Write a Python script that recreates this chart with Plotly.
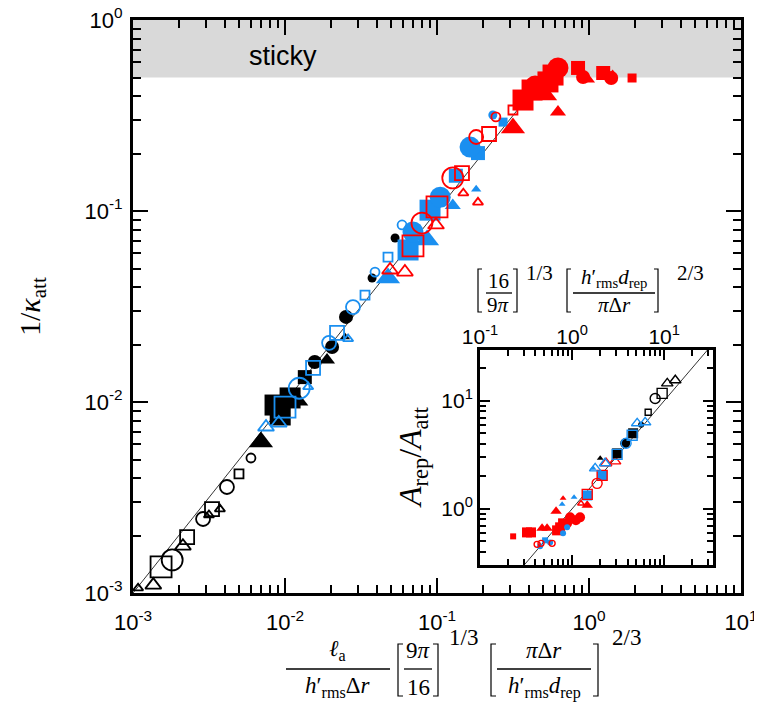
import plotly.graph_objects as go

# ---------------- main panel: 1/kappa_att vs rescaled adhesion length ----------------
# black, open
m_blk_open_tri_s = [(1.08e-3, 1.06e-3), (3.16e-3, 2.56e-3), (3.73e-3, 2.75e-3)]
m_blk_open_tri_m = [(1.36e-3, 1.10e-3), (2.13e-3, 1.76e-3)]
m_blk_open_sq_s = [(4.98e-3, 4.20e-3)]
m_blk_open_sq_m = [(2.27e-3, 1.96e-3), (3.31e-3, 2.75e-3)]
m_blk_open_sq_l = [(1.53e-3, 1.37e-3)]
m_blk_open_ci_s = [(5.97e-3, 5.09e-3)]
m_blk_open_ci_m = [(2.89e-3, 2.44e-3), (4.15e-3, 3.59e-3)]
m_blk_open_ci_l = [(1.81e-3, 1.49e-3)]
# black, filled
m_blk_fill_tri_s = [(2.48e-2, 2.19e-2)]
m_blk_fill_tri_m = [(1.26e-2, 1.00e-2), (1.89e-2, 1.66e-2)]
m_blk_fill_tri_l = [(6.95e-3, 6.18e-3)]
m_blk_fill_sq_m = [(1.35e-2, 1.35e-2)]
m_blk_fill_sq_l = [(8.6e-3, 9.64e-3), (9.3e-3, 8.55e-3), (1.08e-2, 1.05e-2)]
m_blk_fill_ci_s = [(3.74e-2, 4.46e-2), (5.3e-2, 7.22e-2)]
m_blk_fill_ci_m = [(1.03e-2, 1.06e-2), (1.57e-2, 1.62e-2), (2.04e-2, 1.94e-2), (2.52e-2, 2.79e-2)]
# blue, open
m_blu_open_tri_s = [(1.42e-2, 1.20e-2), (2.6e-2, 2.14e-2)]
m_blu_open_tri_m = [(7.5e-3, 7.4e-3), (9.1e-3, 7.76e-3)]
m_blu_open_sq_s = [(3.36e-2, 3.63e-2), (4.76e-2, 5.74e-2)]
m_blu_open_sq_m = [(1.53e-2, 1.51e-2), (2.2e-2, 2.3e-2)]
m_blu_open_sq_l = [(1.0e-2, 9.4e-3)]
m_blu_open_ci_s = [(3.91e-2, 4.79e-2), (5.89e-2, 8.45e-2)]
m_blu_open_ci_m = [(1.95e-2, 2.04e-2), (2.8e-2, 3.14e-2)]
m_blu_open_ci_l = [(1.24e-2, 1.18e-2)]
# blue, filled
m_blu_fill_tri_s = [(0.181, 0.130)]
m_blu_fill_tri_m = [(0.127, 0.107)]
m_blu_fill_tri_l = [(4.76e-2, 4.46e-2), (8.6e-2, 7.05e-2)]
m_blu_fill_sq_s = [(0.272, 0.292)]
m_blu_fill_sq_m = [(0.133, 0.153), (0.186, 0.201)]
m_blu_fill_sq_l = [(6.45e-2, 6.25e-2), (9.0e-2, 0.101)]
m_blu_fill_ci_s = [(0.233, 0.318)]
m_blu_fill_ci_l = [(6.95e-2, 7.76e-2), (0.105, 0.118), (0.165, 0.216)]
# red, open
m_red_open_tri_s = [(0.149, 0.124), (0.186, 0.111)]
m_red_open_tri_m = [(4.91e-2, 4.91e-2), (6.15e-2, 4.79e-2), (9.85e-2, 8.45e-2)]
m_red_open_sq_s = [(0.316, 0.338)]
m_red_open_sq_m = [(0.146, 0.158), (0.22, 0.253)]
m_red_open_sq_l = [(6.95e-2, 6.56e-2), (0.100, 0.105)]
m_red_open_ci_s = [(0.244, 0.311)]
m_red_open_ci_m = [(0.181, 0.244)]
m_red_open_ci_l = [(7.96e-2, 8.65e-2), (0.127, 0.149)]
# red, filled
m_red_fill_tri_s = [(1.43, 0.521)]
m_red_fill_tri_m = [(0.625, 0.330), (0.97, 0.491)]
m_red_fill_tri_l = [(0.316, 0.272), (0.514, 0.405)]
m_red_fill_sq_s = [(1.92, 0.497)]
m_red_fill_sq_m = [(0.847, 0.561), (1.24, 0.528)]
m_red_fill_sq_l = [(0.368, 0.381), (0.422, 0.430), (0.537, 0.474), (0.58, 0.515)]
m_red_fill_ci_m = [(0.914, 0.503), (1.40, 0.497)]
m_red_fill_ci_l = [(0.442, 0.451), (0.625, 0.561)]

guide_main = [1e-3, 0.4]      # y = x
sticky_level = 0.5            # sticky region 0.5 .. 1

# ---------------- inset: A_rep/A_att ----------------
i_blk_open_tri_m = [(10.8, 14.5), (13.2, 15.5)]
i_blk_open_sq_s = [(6.70, 7.83)]
i_blk_open_sq_m = [(9.5, 11.7)]
i_blk_open_ci_m = [(7.98, 10.5)]
i_blk_fill_tri_s = [(2.02, 2.94)]
i_blk_fill_sq_m = [(4.60, 5.00), (3.08, 3.26)]
i_blk_fill_ci_s = [(5.62, 6.0)]
i_blk_fill_ci_m = [(3.77, 4.04)]
i_blu_open_tri_m = [(5.09, 6.19), (6.21, 6.32), (2.28, 2.64), (1.78, 2.37)]
i_blu_open_sq_m = [(4.49, 4.80), (3.08, 3.19)]
i_blu_open_ci_m = [(3.86, 4.04)]
i_blu_fill_tri_s = [(1.69, 2.37), (1.05, 1.28), (0.779, 1.10)]
i_blu_fill_sq_s = [(0.509, 0.511)]
i_blu_fill_sq_m = [(2.12, 2.04), (1.46, 1.33)]
i_blu_fill_ci_s = [(0.449, 0.450), (0.577, 0.489), (0.798, 0.593), (0.883, 0.674)]
i_red_open_tri_s = [(1.25, 1.12)]
i_red_open_tri_m = [(2.34, 2.64), (2.93, 2.75)]
i_red_open_sq_m = [(2.12, 2.04), (1.46, 1.36)]
i_red_open_ci_s = [(0.417, 0.469), (0.46, 0.479), (0.607, 0.479)]
i_red_open_ci_m = [(1.87, 1.72)]
i_red_fill_tri_s = [(0.798, 1.25)]
i_red_fill_tri_m = [(1.46, 1.08), (0.670, 0.948), (0.472, 0.660), (0.535, 0.660)]
i_red_fill_sq_s = [(0.229, 0.556)]
i_red_fill_sq_m = [(0.324, 0.605), (0.358, 0.605), (0.687, 0.632), (0.741, 0.674), (0.798, 0.734)]
i_red_fill_ci_m = [(0.951, 0.834), (1.10, 0.783), (1.22, 0.834), (0.883, 0.734)]

guide_inset = [0.3, 34]       # y = x

BLACK, BLUE, RED = "black", "#1a8ff0", "#ff0000"
TRI, SQ, CI = "triangle-up", "square", "circle"

main_groups = [
    (m_blk_open_tri_s, BLACK, TRI, True, "s"), (m_blk_open_tri_m, BLACK, TRI, True, "m"),
    (m_blk_open_sq_s, BLACK, SQ, True, "s"), (m_blk_open_sq_m, BLACK, SQ, True, "m"),
    (m_blk_open_sq_l, BLACK, SQ, True, "l"), (m_blk_open_ci_s, BLACK, CI, True, "s"),
    (m_blk_open_ci_m, BLACK, CI, True, "m"), (m_blk_open_ci_l, BLACK, CI, True, "l"),
    (m_blk_fill_tri_s, BLACK, TRI, False, "s"), (m_blk_fill_tri_m, BLACK, TRI, False, "m"),
    (m_blk_fill_tri_l, BLACK, TRI, False, "l"), (m_blk_fill_sq_m, BLACK, SQ, False, "m"),
    (m_blk_fill_sq_l, BLACK, SQ, False, "l"), (m_blk_fill_ci_s, BLACK, CI, False, "s"),
    (m_blk_fill_ci_m, BLACK, CI, False, "m"),
    (m_blu_fill_tri_s, BLUE, TRI, False, "s"), (m_blu_fill_tri_m, BLUE, TRI, False, "m"),
    (m_blu_fill_tri_l, BLUE, TRI, False, "l"), (m_blu_fill_sq_s, BLUE, SQ, False, "s"),
    (m_blu_fill_sq_m, BLUE, SQ, False, "m"), (m_blu_fill_sq_l, BLUE, SQ, False, "l"),
    (m_blu_fill_ci_s, BLUE, CI, False, "s"), (m_blu_fill_ci_l, BLUE, CI, False, "l"),
    (m_blu_open_tri_s, BLUE, TRI, True, "s"), (m_blu_open_tri_m, BLUE, TRI, True, "m"),
    (m_blu_open_sq_s, BLUE, SQ, True, "s"), (m_blu_open_sq_m, BLUE, SQ, True, "m"),
    (m_blu_open_sq_l, BLUE, SQ, True, "l"), (m_blu_open_ci_s, BLUE, CI, True, "s"),
    (m_blu_open_ci_m, BLUE, CI, True, "m"), (m_blu_open_ci_l, BLUE, CI, True, "l"),
    (m_red_fill_tri_s, RED, TRI, False, "s"), (m_red_fill_tri_m, RED, TRI, False, "m"),
    (m_red_fill_tri_l, RED, TRI, False, "l"), (m_red_fill_sq_s, RED, SQ, False, "s"),
    (m_red_fill_sq_m, RED, SQ, False, "m"), (m_red_fill_sq_l, RED, SQ, False, "l"),
    (m_red_fill_ci_m, RED, CI, False, "m"), (m_red_fill_ci_l, RED, CI, False, "l"),
    (m_red_open_tri_s, RED, TRI, True, "s"), (m_red_open_tri_m, RED, TRI, True, "m"),
    (m_red_open_sq_s, RED, SQ, True, "s"), (m_red_open_sq_m, RED, SQ, True, "m"),
    (m_red_open_sq_l, RED, SQ, True, "l"), (m_red_open_ci_s, RED, CI, True, "s"),
    (m_red_open_ci_m, RED, CI, True, "m"), (m_red_open_ci_l, RED, CI, True, "l"),
]

inset_groups = [
    (i_red_fill_tri_s, RED, TRI, False, "s"), (i_red_fill_tri_m, RED, TRI, False, "m"),
    (i_red_fill_sq_s, RED, SQ, False, "s"), (i_red_fill_sq_m, RED, SQ, False, "m"),
    (i_red_fill_ci_m, RED, CI, False, "m"),
    (i_blu_fill_tri_s, BLUE, TRI, False, "s"), (i_blu_fill_sq_s, BLUE, SQ, False, "s"),
    (i_blu_fill_sq_m, BLUE, SQ, False, "m"), (i_blu_fill_ci_s, BLUE, CI, False, "s"),
    (i_red_open_tri_s, RED, TRI, True, "s"), (i_red_open_tri_m, RED, TRI, True, "m"),
    (i_red_open_sq_m, RED, SQ, True, "m"), (i_red_open_ci_s, RED, CI, True, "s"),
    (i_red_open_ci_m, RED, CI, True, "m"),
    (i_blk_fill_tri_s, BLACK, TRI, False, "s"), (i_blk_fill_sq_m, BLACK, SQ, False, "m"),
    (i_blk_fill_ci_s, BLACK, CI, False, "s"), (i_blk_fill_ci_m, BLACK, CI, False, "m"),
    (i_blu_open_tri_m, BLUE, TRI, True, "m"), (i_blu_open_sq_m, BLUE, SQ, True, "m"),
    (i_blu_open_ci_m, BLUE, CI, True, "m"),
    (i_blk_open_tri_m, BLACK, TRI, True, "m"), (i_blk_open_sq_s, BLACK, SQ, True, "s"),
    (i_blk_open_sq_m, BLACK, SQ, True, "m"), (i_blk_open_ci_m, BLACK, CI, True, "m"),
]

MAIN_SIZE = {"s": 9, "m": 14, "l": 21}
INSET_SIZE = {"s": 6, "m": 10}
W, H = 762, 715
OFF = 8          # the page body margin shifts the figure by this many px
SANS = "Liberation Sans"
SERIF = "Liberation Serif"


def P(px, py):
    """screen pixel -> paper coords"""
    return (px - OFF) / W, 1 - (py - OFF) / H


def dom_x(a, b):
    return [P(a, 0)[0], P(b, 0)[0]]


def dom_y(top, bot):
    return [P(0, bot)[1], P(0, top)[1]]


fig = go.Figure()

# sticky band
fig.add_trace(go.Scatter(x=[1e-3, 10, 10, 1e-3], y=[sticky_level, sticky_level, 1, 1],
                         fill="toself", fillcolor="#d9d9d9", mode="none", hoverinfo="skip"))
fig.add_trace(go.Scatter(x=guide_main, y=guide_main, mode="lines",
                         line=dict(color="black", width=0.8), hoverinfo="skip"))
fig.add_trace(go.Scatter(x=guide_inset, y=guide_inset, mode="lines", xaxis="x2", yaxis="y2",
                         line=dict(color="black", width=0.8), hoverinfo="skip"))


def add_group(pts, color, sym, is_open, size, sizes, axes, lw):
    fig.add_trace(go.Scatter(
        x=[p[0] for p in pts], y=[p[1] for p in pts], mode="markers",
        xaxis=axes[0], yaxis=axes[1], hoverinfo="skip",
        marker=dict(symbol=sym + ("-open" if is_open else ""), size=sizes[size],
                    color=color, line=dict(color=color, width=lw if is_open else 0))))


for g in main_groups:
    add_group(*g, MAIN_SIZE, ("x", "y"), 1.8)
for g in inset_groups:
    add_group(*g, INSET_SIZE, ("x2", "y2"), 1.4)


def decade_labels(exps):
    return [10.0 ** e for e in exps], ["10<sup>%d</sup>" % e for e in exps]


def minor_vals(e0, e1, hi):
    return [k * 10.0 ** e for e in range(e0, e1) for k in range(2, 10) if k * 10.0 ** e <= hi]


def axis(rng, domain, exps, minor, anchor, size, ticklen, mticklen, standoff, **kw):
    tv, tt = decade_labels(exps)
    return dict(type="log", range=rng, domain=domain, anchor=anchor, automargin=False,
                tickmode="array", tickvals=tv, ticktext=tt, ticklabeloverflow="allow",
                ticks="inside", ticklen=ticklen, tickwidth=2, tickcolor="black",
                minor=dict(tickmode="array", tickvals=minor, ticks="inside",
                           ticklen=mticklen, tickwidth=1.5, tickcolor="black", showgrid=False),
                showline=True, linewidth=3, linecolor="black", mirror="allticks",
                showgrid=False, zeroline=False, ticklabelstandoff=standoff,
                tickfont=dict(family=SANS, size=size, color="black"), **kw)


fig.update_layout(
    width=W, height=H, margin=dict(l=0, r=0, t=0, b=0, autoexpand=False),
    paper_bgcolor="white", plot_bgcolor="white", showlegend=False,
    xaxis=axis([-3, 1], dom_x(133, 741), [-3, -2, -1, 0, 1], minor_vals(-3, 1, 10), "y", 22, 15, 8, 8),
    yaxis=axis([-3, 0], dom_y(20, 593), [-3, -2, -1, 0], minor_vals(-3, 0, 1), "x", 22, 15, 8, 3),
    xaxis2=axis([-1, 1.53], dom_x(480, 713), [-1, 0, 1], minor_vals(-1, 2, 33), "y2", 21, 10, 6, -5,
                side="top"),
    yaxis2=axis([-0.52, 1.47], dom_y(350, 565), [0, 1], minor_vals(-1, 2, 29), "x2", 21, 10, 6, 0),
)


# ---------------- text: titles built from pieces ----------------
def text(px, py, s, size, family=SERIF, angle=0):
    x, y = P(px, py)
    fig.add_annotation(x=x, y=y, xref="paper", yref="paper", text=s, showarrow=False,
                       xanchor="center", yanchor="middle", textangle=angle,
                       font=dict(family=family, size=size, color="black"))


def hline(x0, x1, py, w=1.3):
    a, b = P(x0, py)
    c, _ = P(x1, py)
    fig.add_shape(type="line", xref="paper", yref="paper", x0=a, x1=c, y0=b, y1=b,
                  line=dict(color="black", width=w))


def bracket(px, top, bot, side, arm=5):
    d = arm if side == "l" else -arm
    xs = [px + d, px, px, px + d]
    ys = [top, top, bot, bot]
    path = "M " + " L ".join("%f,%f" % P(x, y) for x, y in zip(xs, ys))
    fig.add_shape(type="path", xref="paper", yref="paper", path=path,
                  line=dict(color="black", width=1.2))


def frac(cx, x0, x1, bar, num, den, size, dy_num, dy_den):
    text(cx, bar - dy_num, num, size)
    text(cx, bar + dy_den, den, size)
    hline(x0, x1, bar)


# main x title
FS = 23
frac(337, 286, 390, 669, "<i>ℓ</i><sub>a</sub>", "<i>h</i>′<sub>rms</sub>Δ<i>r</i>", FS, 19, 18)
bracket(398, 644, 696, "l")
frac(418, 404, 432, 669, "9<i>π</i>", "16", FS, 19, 18)
bracket(438, 644, 696, "r")
text(463, 637, "1/3", FS)
bracket(491, 644, 696, "l")
frac(544, 497, 591, 669, "<i>π</i>Δ<i>r</i>", "<i>h</i>′<sub>rms</sub><i>d</i><sub>rep</sub>", FS, 19, 18)
bracket(598, 644, 696, "r")
text(626, 637, "2/3", FS)

# inset x title
FI = 21
bracket(478, 269, 312, "l", 4)
frac(498, 486, 512, 293, "16", "9<i>π</i>", FI, 12, 12)
bracket(517, 269, 312, "r", 4)
text(539, 273, "1/3", FI)
bracket(567, 269, 312, "l", 4)
frac(614, 573, 655, 293, "<i>h</i>′<sub>rms</sub><i>d</i><sub>rep</sub>", "<i>π</i>Δ<i>r</i>", FI, 15, 12)
bracket(658, 269, 312, "r", 4)
text(690, 273, "2/3", FI)

# axis titles
text(32, 307, "1/<i>κ</i><sub>att</sub>", 30, angle=-90)
text(412, 457, "<i>A</i><sub>rep</sub>/<i>A</i><sub>att</sub>", 32, angle=-90)
text(283, 56, "sticky", 27, family=SANS)

fig.write_html("out.html")
